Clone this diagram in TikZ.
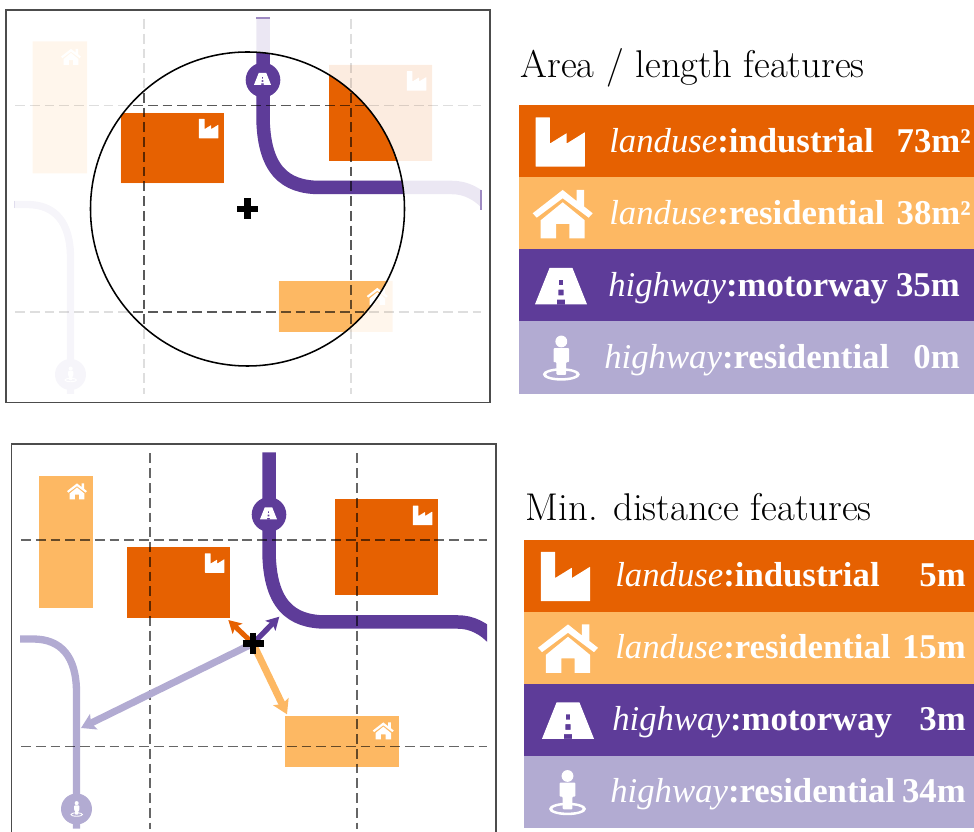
\documentclass[tikz,border=0pt]{standalone}
\usepackage{fontspec}
\usepackage{tikz}
\usetikzlibrary{arrows.meta}
\newfontfamily\rowfont{Liberation Serif}

\definecolor{indcol}{HTML}{E66101}
\definecolor{rescol}{HTML}{FDB863}
\definecolor{waycol}{HTML}{5E3C99}
\definecolor{pathcol}{HTML}{B2ABD2}

\tikzset{
  icon/.style={scale=#1,yscale=-1},
  griddash/.style={draw=black,line width=.75pt,dash pattern=on 7pt off 3.5pt},
  headline/.style={anchor=base west,inner sep=0pt,font=\fontsize{27.5}{32}\selectfont},
  rowlabel/.style={anchor=base west,inner sep=0pt,text=white,font=\rowfont\fontsize{24.7}{28}\selectfont},
  rowvalue/.style={anchor=base east,inner sep=0pt,text=white,font=\rowfont\bfseries\fontsize{24.7}{28}\selectfont},
  panel/.style={draw=black!70,line width=1.1pt},
  pics/factoryicon/.style={code={
    \fill[white,rounded corners=.3pt] (-.5,0) -- (-.5,1) -- (-.21,1) -- (-.21,.47) -- (.13,.68) -- (.13,.47) -- (.5,.7) -- (.5,0) -- cycle;
  }},
  pics/houseicon/.style={code={
    \fill[white] (-.5,.417) -- (0,.806) -- (.233,.62) -- (.233,.806) -- (.356,.806) -- (.356,.53) -- (.5,.417) -- (.433,.344) -- (0,.667) -- (-.433,.344) -- cycle;
    \fill[white] (-.367,0) -- (-.367,.3) -- (0,.6) -- (.367,.3) -- (.367,0) -- (.11,0) -- (.11,.24) -- (-.11,.24) -- (-.11,0) -- cycle;
  }},
  pics/wayicon/.style={code={
    \fill[white,even odd rule] (-.5,0) -- (-.22,.7) -- (.22,.7) -- (.5,0) -- cycle
      (-.04,.37) rectangle (.04,.47) (-.05,.17) rectangle (.05,.28) (-.08,0) rectangle (.08,.09);
  }},
  pics/walkicon/.style={code={
    \fill[white] (0,1.06) circle (.16);
    \fill[white,rounded corners=.6pt] (-.21,.88) -- (.21,.88) -- (.21,.5) -- (.13,.5) -- (.13,.16) -- (-.13,.16) -- (-.13,.5) -- (-.21,.5) -- cycle;
    \fill[white,even odd rule] (0,.17) ellipse (.5 and .17) (0,.17) ellipse (.41 and .1);
  }},
  pics/plusmark/.style={code={
    \draw[black,line width=4.4pt] (-10.5,0) -- (10.5,0);
    \draw[black,line width=4.4pt] (0,-10.5) -- (0,10.5);
  }},
}

% blocks and roads of the neighbourhood
\newcommand{\citymap}{
\begin{scope}
\clip (14,18) rectangle (481,394);
\fill[rescol] (32.5,41.5) rectangle (87,173.5);
\fill[indcol] (120.5,113) rectangle (223.5,183.5);
\fill[indcol] (329,65) rectangle (432,161);
\fill[rescol] (278.5,281) rectangle (392.5,332);
\draw[pathcol,line width=5.2pt] (14,204.5) -- (27,204.5) .. controls (55,204.5) and (70.5,222) .. (70.5,258) -- (70.5,394);
\fill[pathcol] (70.5,374.5) circle (15.5);
\draw[waycol,line width=9.6pt] (263,18) -- (263,115) .. controls (263,170) and (285,187.5) .. (320,187.5) -- (452,187.5) .. controls (465,187.5) and (478,193) .. (490,207);
\fill[waycol] (263,80) circle (17.3);
\pic[icon=20] at (71,65) {houseicon};
\pic[icon=19.5] at (208.7,138.3) {factoryicon};
\pic[icon=19.5] at (416.5,90.7) {factoryicon};
\pic[icon=21] at (377.3,304.8) {houseicon};
\pic[icon=17] at (262.5,84.8) {wayicon};
\pic[icon=12.8] at (70.7,382.2) {walkicon};
\end{scope}
}
\newcommand{\citygrid}{
\draw[griddash] (144,19) -- (144,394);
\draw[griddash] (351,19) -- (351,394);
\draw[griddash] (15,105.5) -- (481,105.5);
\draw[griddash] (15,312) -- (481,312);
}

\begin{document}
\begin{tikzpicture}[x=.025cm,y=-.025cm]
\useasboundingbox (0,0) rectangle (974,832);

% upper map
\begin{scope}[transparency group,opacity=.12]
\citymap
\end{scope}
\begin{scope}[opacity=.13]
\citygrid
\end{scope}
\begin{scope}
\clip (247.5,209) circle (157);
\citymap
\begin{scope}[opacity=.6]
\citygrid
\end{scope}
\end{scope}
\draw[waycol!60,line width=.8pt] (256,18) -- (270,18);
\draw[waycol!60,line width=.8pt] (481,190) -- (481,210);
\draw[pathcol!40,line width=.8pt] (14.5,201) -- (14.5,208);
\draw[black,line width=1.1pt] (247.5,209) circle (157);
\pic at (247.5,209) {plusmark};
\draw[panel] (6,10) rectangle (490,402.5);

% lower map
\begin{scope}[shift={(6,434.5)}]
\citymap
\begin{scope}[opacity=.6]
\citygrid
\end{scope}
\coordinate (pos) at (247,209);
\coordinate (tipind) at (222.3,185.5);
\coordinate (tipway) at (273.3,182.2);
\coordinate (tipres) at (281,279.8);
\coordinate (tippath) at (75,293.5);
\draw[-{Stealth[length=9pt,width=10pt,inset=2pt]},indcol,line width=3.6pt] (pos) -- (tipind);
\draw[-{Stealth[length=9pt,width=10pt,inset=2pt]},waycol,line width=3.8pt] (pos) -- (tipway);
\draw[-{Stealth[length=10pt,width=12pt,inset=2pt]},rescol,line width=5pt] (pos) -- (tipres);
\draw[-{Stealth[length=10pt,width=12pt,inset=2pt]},pathcol,line width=5pt] (pos) -- (tippath);
\pic at (pos) {plusmark};
\end{scope}
\draw[panel] (11.5,832) -- (11.5,444) -- (496,444) -- (496,832);

% upper table
\node[headline] (areahead) at (520.5,77.3) {Area / length features};
\fill[indcol] (518.5,105.5) rectangle (974,177.5);
\fill[rescol] (518.5,177.5) rectangle (974,249.5);
\fill[waycol] (518.5,249.5) rectangle (974,321.5);
\fill[pathcol] (518.5,321.5) rectangle (974,394);
\pic[icon=49.3] at (560.3,166.7) {factoryicon};
\pic[icon=60] at (562.7,238.3) {houseicon};
\pic[icon=52] at (561,304.3) {wayicon};
\pic[icon=37] at (561.3,380.7) {walkicon};
\node[rowlabel] (arealbla) at (609,152.3) {\textit{landuse}\textbf{:industrial}};
\node[rowlabel] (arealblb) at (609,224.3) {\textit{landuse}\textbf{:residential}};
\node[rowlabel] (arealblc) at (608,296.3) {\textit{highway}\textbf{:motorway}};
\node[rowlabel] (arealbld) at (604,368.3) {\textit{highway}\textbf{:residential}};
\node[rowvalue] (areavala) at (971,152.3) {73m²};
\node[rowvalue] (areavalb) at (971,224.3) {38m²};
\node[rowvalue] (areavalc) at (960,296.3) {35m};
\node[rowvalue] (areavald) at (960,368.3) {0m};

% lower table
\node[headline] (disthead) at (525.5,521) {Min. distance features};
\fill[indcol] (524,540) rectangle (974,612);
\fill[rescol] (524,612) rectangle (974,684);
\fill[waycol] (524,684) rectangle (974,756);
\fill[pathcol] (524,756) rectangle (974,828);
\pic[icon=49.3] at (565.5,601.2) {factoryicon};
\pic[icon=60] at (568,672.8) {houseicon};
\pic[icon=52] at (568,738.8) {wayicon};
\pic[icon=37] at (567.5,815.2) {walkicon};
\node[rowlabel] (distlbla) at (615,586.8) {\textit{landuse}\textbf{:industrial}};
\node[rowlabel] (distlblb) at (615,658.8) {\textit{landuse}\textbf{:residential}};
\node[rowlabel] (distlblc) at (612,730.8) {\textit{highway}\textbf{:motorway}};
\node[rowlabel] (distlbld) at (610,802.8) {\textit{highway}\textbf{:residential}};
\node[rowvalue] (distvala) at (966,586.8) {5m};
\node[rowvalue] (distvalb) at (966,658.8) {15m};
\node[rowvalue] (distvalc) at (966,730.8) {3m};
\node[rowvalue] (distvald) at (966,802.8) {34m};

\end{tikzpicture}
\end{document}
